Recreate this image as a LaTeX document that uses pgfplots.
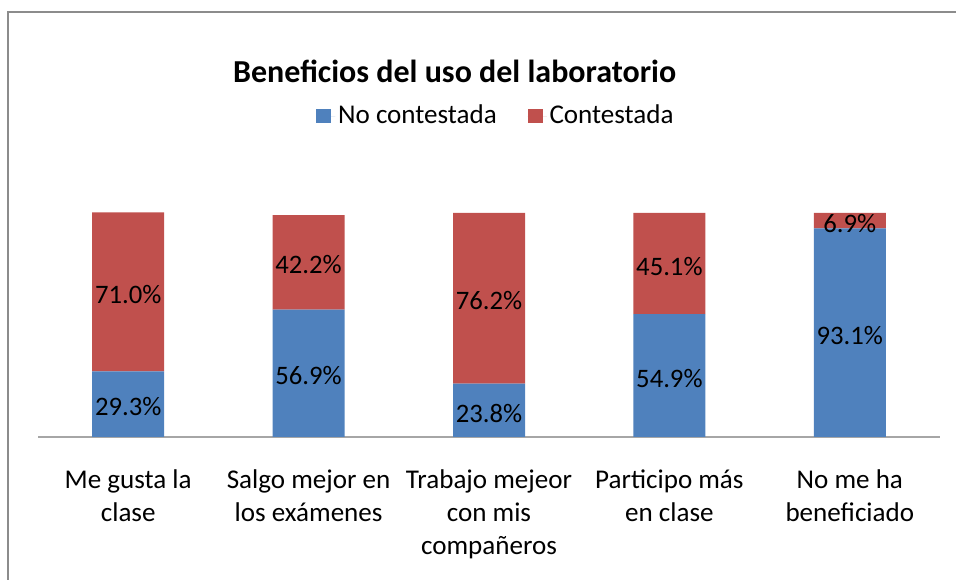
\documentclass[border=0pt]{standalone}
\usepackage{fontspec}
\setmainfont{Carlito}
\usepackage{pgfplots}
\pgfplotsset{compat=1.18}
\definecolor{cblue}{HTML}{4F81BD}
\definecolor{cred}{HTML}{C0504D}
\begin{document}
\fontsize{19.5pt}{24.75pt}\selectfont
\begin{tikzpicture}
\path[use as bounding box] (0,0) rectangle (717pt,435pt);
\draw[line width=1.5pt, color=black!45] (6pt,-2pt) -- (6pt,426pt) -- (720pt,426pt);
\node[font=\fontsize{24pt}{28pt}\selectfont\bfseries] at (341pt,381.5pt) {Beneficios del uso del laboratorio};
\pgfplotsset{base/.style={at={(28.5pt,107.25pt)}, anchor=south west, scale only axis,
  width=676.5pt, height=168pt, xmin=-0.5, xmax=4.5, ymin=0, ymax=100, clip=false}}
\begin{axis}[base, ybar stacked, bar width=54pt,
  axis y line=none, axis x line=bottom,
  x axis line style={-, draw=black!35, line width=1.5pt},
  xtick={0,1,2,3,4},
  xticklabels={{Me gusta la\\clase},{Salgo mejor en\\los exámenes},{Trabajo mejeor\\con mis\\compañeros},{Participo más\\en clase},{No me ha\\beneficiado}},
  major tick length=0pt,
  xticklabel style={align=center, font=\fontsize{20.3pt}{24.75pt}\selectfont, yshift=-18pt},
  legend columns=2,
  legend style={at={(0.508,1.433)}, anchor=center, draw=none, fill=none,
    font=\fontsize{20.3pt}{24pt}\selectfont,
    /tikz/every even column/.append style={column sep=21pt},
    /tikz/every odd column/.append style={column sep=0pt}},
  legend image code/.code={\draw[#1, draw=none] (0pt,-5.6pt) rectangle (11.25pt,5.6pt); \path (0pt,0pt) -- (14.5pt,0pt);},
]
\addplot[fill=cblue, draw=none] coordinates {(0,29.3) (1,56.9) (2,23.8) (3,54.9) (4,93.1)};
\addplot[fill=cred, draw=none] coordinates {(0,71.0) (1,42.2) (2,76.2) (3,45.1) (4,6.9)};
\legend{No contestada, Contestada}
\end{axis}
\begin{axis}[base, hide axis]
\addplot[draw=none, mark=none, nodes near coords, point meta=explicit symbolic,
  every node near coord/.append style={anchor=center, yshift=-2pt, font=\fontsize{20pt}{24pt}\selectfont}]
  coordinates {(0,14.65)[29.3\%] (1,28.45)[56.9\%] (2,11.9)[23.8\%] (3,27.45)[54.9\%] (4,46.55)[93.1\%]
               (0,64.8)[71.0\%] (1,78.0)[42.2\%] (2,61.9)[76.2\%] (3,77.45)[45.1\%] (4,96.55)[6.9\%]};
\end{axis}
\end{tikzpicture}
\end{document}
